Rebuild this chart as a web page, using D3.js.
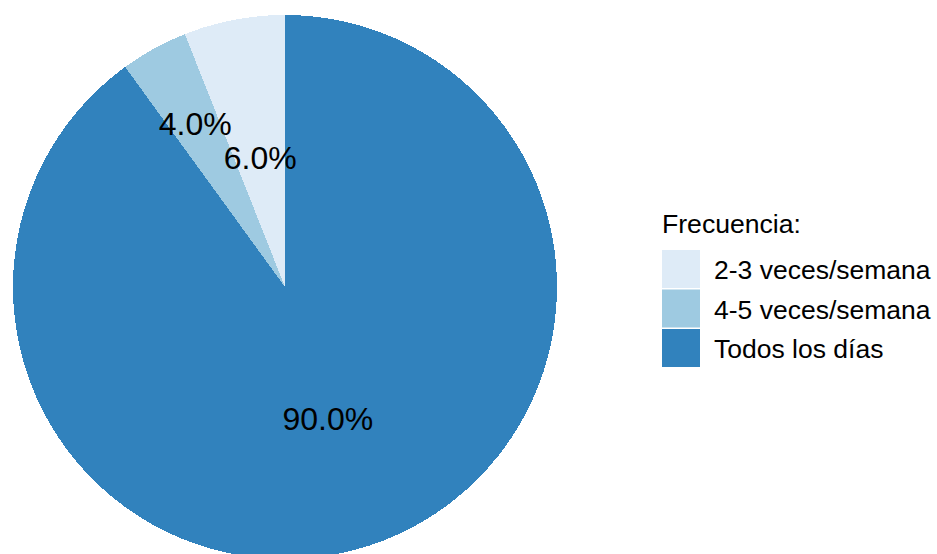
<!DOCTYPE html>
<html>
<head>
<meta charset="utf-8">
<script src="https://cdn.jsdelivr.net/npm/d3@7"></script>
<style>
  html, body { margin: 0; padding: 0; background: #ffffff; }
  svg { display: block; font-family: "Liberation Sans", Arial, sans-serif; }
</style>
</head>
<body>
<svg id="chart" width="937" height="554"></svg>
<script>
// Frequency categories and their shares (percent)
const categories = ["2-3 veces/semana", "4-5 veces/semana", "Todos los días"];
const shares = [6.0, 4.0, 90.0];
const colours = ["#deebf7", "#9ecae1", "#3182bd"];
const legendTitle = "Frecuencia:";

const svg = d3.select("#chart");
const cx = 285, cy = 287, R = 272;

const data = categories.map((c, i) => ({ cat: c, value: shares[i] }));

// Slices run counter-clockwise from 12 o'clock
const pie = d3.pie()
  .value(d => d.value)
  .sort(null)
  .startAngle(0)
  .endAngle(-2 * Math.PI);

const arcs = pie(data);
const arc = d3.arc().innerRadius(0).outerRadius(R);
const colour = d3.scaleOrdinal().domain(categories).range(colours);

const g = svg.append("g").attr("transform", `translate(${cx},${cy})`);

g.selectAll("path.slice")
  .data(arcs)
  .join("path")
  .attr("class", "slice")
  .attr("d", arc)
  .attr("fill", d => colour(d.data.cat))
  .attr("shape-rendering", "crispEdges");

// Label distance from centre as a fraction of the radius, per slice
const labelRadius = { "2-3 veces/semana": 0.485, "4-5 veces/semana": 0.685, "Todos los días": 0.51 };
const fmt = d => d3.format(".1f")(d) + "%";

g.selectAll("text.lbl")
  .data(arcs)
  .join("text")
  .attr("class", "lbl")
  .attr("transform", d => {
    const a = (d.startAngle + d.endAngle) / 2;
    const r = R * labelRadius[d.data.cat];
    return `translate(${r * Math.sin(a)},${-r * Math.cos(a)})`;
  })
  .attr("text-anchor", "middle")
  .attr("dy", "0.36em")
  .attr("font-size", 32)
  .attr("fill", "#000")
  .text(d => fmt(d.data.value));

// Legend
const lx = 662, ly = 250, key = 38, pitch = 39.5;
const legend = svg.append("g");
legend.append("text")
  .attr("x", lx)
  .attr("y", 233)
  .attr("font-size", 26.6)
  .attr("fill", "#000")
  .text(legendTitle);

const items = legend.selectAll("g.item")
  .data(categories)
  .join("g")
  .attr("class", "item")
  .attr("transform", (d, i) => `translate(${lx},${ly + i * pitch})`);

items.append("rect")
  .attr("width", key)
  .attr("height", key)
  .attr("fill", d => colour(d));

items.append("text")
  .attr("x", 52)
  .attr("y", key / 2 + 10)
  .attr("font-size", 26.5)
  .attr("fill", "#000")
  .text(d => d);
</script>
</body>
</html>
